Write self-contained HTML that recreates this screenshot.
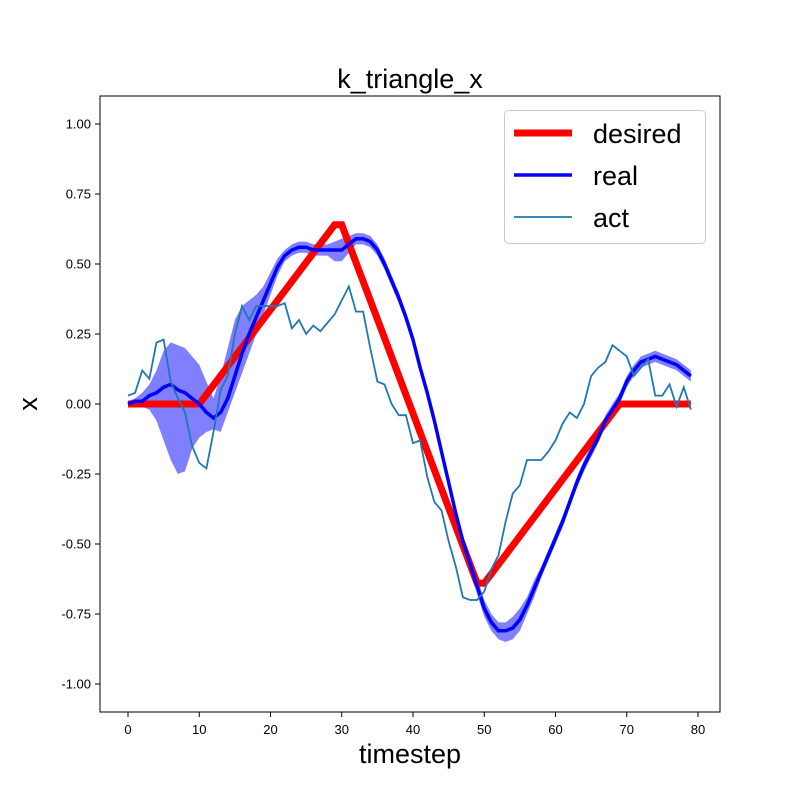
<!DOCTYPE html>
<html><head><meta charset="utf-8"><style>body{margin:0;background:#fff}svg{display:block;font-family:"Liberation Sans","DejaVu Sans",sans-serif}</style></head>
<body>
<svg id="chart" width="800" height="800" viewBox="0 0 800 800"></svg>
<script>
const timesteps = Array.from({length:80},(_,i)=>i);
const actValues = [0.03,0.04,0.12,0.09,0.22,0.23,0.08,0.02,-0.03,-0.15,-0.21,-0.23,-0.10,0.05,0.10,0.25,0.35,0.30,0.35,0.35,0.35,0.35,0.36,0.27,0.30,0.25,0.28,0.26,0.29,0.32,0.37,0.42,0.33,0.33,0.20,0.08,0.07,0.00,-0.04,-0.04,-0.14,-0.13,-0.26,-0.35,-0.38,-0.49,-0.58,-0.69,-0.70,-0.70,-0.67,-0.59,-0.54,-0.42,-0.32,-0.29,-0.20,-0.20,-0.20,-0.17,-0.13,-0.07,-0.03,-0.05,0.00,0.10,0.13,0.15,0.21,0.19,0.17,0.10,0.13,0.16,0.03,0.03,0.07,-0.01,0.06,-0.02];
const realValues = [0.0,0.01,0.01,0.03,0.04,0.06,0.07,0.05,0.04,0.02,0.0,-0.03,-0.05,-0.03,0.02,0.10,0.18,0.25,0.31,0.37,0.43,0.49,0.53,0.55,0.56,0.56,0.55,0.55,0.55,0.55,0.55,0.57,0.59,0.59,0.58,0.55,0.50,0.44,0.38,0.31,0.23,0.13,0.04,-0.06,-0.17,-0.28,-0.39,-0.49,-0.57,-0.65,-0.73,-0.78,-0.81,-0.81,-0.80,-0.77,-0.72,-0.66,-0.60,-0.54,-0.48,-0.42,-0.35,-0.28,-0.22,-0.17,-0.12,-0.06,-0.02,0.02,0.08,0.12,0.15,0.16,0.17,0.16,0.15,0.14,0.12,0.10];
const bandLow = [-0.01,-0.01,-0.01,-0.02,-0.06,-0.13,-0.20,-0.25,-0.24,-0.16,-0.12,-0.10,-0.09,-0.10,-0.03,0.04,0.11,0.18,0.25,0.32,0.39,0.46,0.51,0.53,0.54,0.54,0.53,0.53,0.53,0.51,0.51,0.54,0.57,0.57,0.56,0.53,0.48,0.42,0.36,0.29,0.21,0.11,0.02,-0.08,-0.19,-0.30,-0.41,-0.51,-0.60,-0.68,-0.76,-0.81,-0.84,-0.85,-0.84,-0.81,-0.75,-0.69,-0.62,-0.56,-0.50,-0.44,-0.37,-0.30,-0.24,-0.19,-0.14,-0.08,-0.04,0.00,0.06,0.10,0.13,0.14,0.15,0.14,0.13,0.12,0.10,0.08];
const bandHigh = [0.01,0.02,0.04,0.07,0.12,0.19,0.22,0.21,0.20,0.17,0.14,0.08,0.02,0.10,0.20,0.30,0.35,0.37,0.39,0.42,0.47,0.52,0.55,0.57,0.58,0.58,0.57,0.57,0.57,0.58,0.59,0.60,0.61,0.61,0.60,0.57,0.52,0.46,0.40,0.33,0.25,0.15,0.06,-0.04,-0.15,-0.26,-0.37,-0.47,-0.54,-0.62,-0.70,-0.75,-0.78,-0.78,-0.76,-0.73,-0.69,-0.63,-0.58,-0.52,-0.46,-0.40,-0.33,-0.26,-0.20,-0.15,-0.10,-0.04,0.00,0.04,0.10,0.14,0.17,0.18,0.19,0.18,0.17,0.16,0.14,0.12];
const desiredT = [0,10,29,30,49,50,69,79];
const desiredV = [0,0,0.64,0.64,-0.64,-0.64,0,0];
const xTicks = [0,10,20,30,40,50,60,70,80];
const yTicks = [-1.00,-0.75,-0.50,-0.25,0.00,0.25,0.50,0.75,1.00];

const NS="http://www.w3.org/2000/svg", svg=document.getElementById('chart');
const X=t=>128+t*7.125, Y=v=>404-v*280;
function mk(tag,attrs,parent){const e=document.createElementNS(NS,tag);for(const k in attrs)e.setAttribute(k,attrs[k]);(parent||svg).appendChild(e);return e;}
const L=(ts,vs)=>ts.map((t,i)=>(i?'L':'M')+X(t).toFixed(2)+','+Y(vs[i]).toFixed(2)).join('');

let e=mk('text',{x:410,y:88,'text-anchor':'middle','font-size':27});e.textContent='k_triangle_x';



const g=mk('g',{});


const bandTop=timesteps.map((t,i)=>(i?'L':'M')+X(t)+','+Y(bandHigh[i])).join('');
const bandBot=timesteps.slice().reverse().map(t=>'L'+X(t)+','+Y(bandLow[t])).join('');
e=mk('path',{d:bandTop+bandBot+'Z',fill:'#0000ff',opacity:0.5},g);


e=mk('path',{d:L(desiredT,desiredV),fill:'none',stroke:'#ff0000','stroke-width':7,'stroke-linejoin':'miter'},g);


e=mk('path',{d:L(timesteps,realValues),fill:'none',stroke:'#0000ff','stroke-width':3.5},g);


e=mk('path',{d:L(timesteps,actValues),fill:'none',stroke:'#1f77b4','stroke-width':1.8},g);



e=mk('rect',{x:100,y:96,width:620,height:616,fill:'none',stroke:'#000','stroke-width':1});


xTicks.forEach(t=>{mk('line',{x1:X(t),x2:X(t),y1:712,y2:717,stroke:'#000'});
 const s=mk('text',{x:X(t),y:734,'text-anchor':'middle','font-size':13});s.textContent=t;
 
 });
yTicks.forEach(v=>{mk('line',{x1:95,x2:100,y1:Y(v),y2:Y(v),stroke:'#000'});
 const s=mk('text',{x:91,y:Y(v)+4.5,'text-anchor':'end','font-size':13});s.textContent=v.toFixed(2);
 
 });
e=mk('text',{x:410,y:763,'text-anchor':'middle','font-size':27});e.textContent='timestep';


e=mk('text',{x:37,y:404,'text-anchor':'middle','font-size':27,transform:'rotate(-90 37 404)'});e.textContent='x';



const lg=mk('g',{});


mk('rect',{x:504.5,y:110.5,width:201,height:133,rx:4,fill:'#fff',stroke:'#ccc','fill-opacity':0.8},lg);
[['desired','#ff0000',7,133],['real','#0000ff',3.5,175],['act','#1f77b4',1.8,217]].forEach(([n,c,w,y])=>{
 mk('line',{x1:514,x2:572,y1:y,y2:y,stroke:c,'stroke-width':w},lg);
 const s=mk('text',{x:593,y:y+10,'font-size':27},lg);s.textContent=n;
 
 });
</script>
</body></html>
